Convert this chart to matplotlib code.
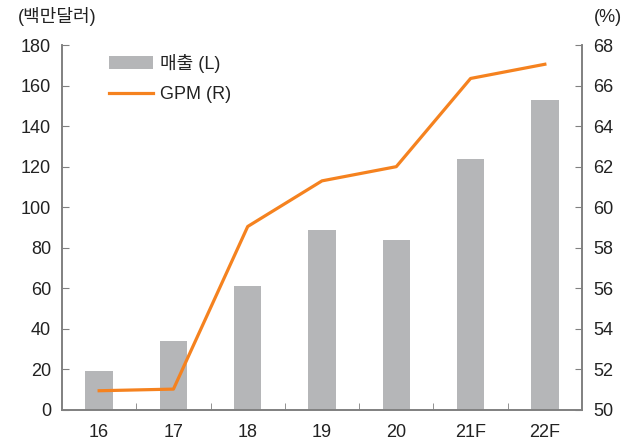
import matplotlib
matplotlib.use("Agg")
import matplotlib.pyplot as plt
from matplotlib.lines import Line2D
from matplotlib.patches import Patch

plt.rcParams['font.family'] = ['Liberation Sans', 'Noto Sans CJK KR', 'DejaVu Sans']

categories = ['16', '17', '18', '19', '20', '21F', '22F']
sales = [19, 34, 61, 89, 84, 124, 153]
gpm = [50.95, 51.03, 59.05, 61.3, 62.0, 66.35, 67.05]

bar_color = '#b5b6b8'
line_color = '#f5821f'
spine_color = '#808080'
text_color = '#222222'

fig = plt.figure(figsize=(6.37, 4.46), dpi=100)
ax = fig.add_axes([62/637, 1-410/446, 520/637, 365/446])
ax2 = ax.twinx()

x = range(len(categories))
ax.bar(x, sales, width=0.37, color=bar_color, zorder=2)
ax2.plot(x, gpm, color=line_color, linewidth=2.3, zorder=3)

ax.set_xlim(-0.5, len(categories) - 0.5)
ax.set_ylim(0, 180)
ax.set_yticks(range(0, 181, 20))
ax2.set_ylim(50, 68)
ax2.set_yticks(range(50, 69, 2))

ax.set_xticks(list(x))
ax.set_xticklabels(categories)
ax.set_xticks([i + 0.5 for i in range(len(categories) - 1)], minor=True)
ax.tick_params(axis='x', which='major', length=0, pad=10, labelsize=13, colors=text_color)
ax.tick_params(axis='x', which='minor', direction='in', length=5, color=spine_color)
ax.tick_params(axis='y', direction='in', length=5, color=spine_color, labelsize=13,
               labelcolor=text_color, pad=8)
ax2.tick_params(axis='y', direction='in', length=5, color=spine_color, labelsize=13,
                labelcolor=text_color, pad=8)

for a in (ax, ax2):
    a.spines['top'].set_visible(False)
    for s in ('left', 'right', 'bottom'):
        a.spines[s].set_color(spine_color)
        a.spines[s].set_linewidth(1.2)
ax2.set_zorder(ax.get_zorder() + 1)
ax2.patch.set_visible(False)

fig.text(18/637, 1-17/446, '(백만달러)', fontsize=13, color=text_color, va='center', ha='left')
fig.text(622/637, 1-17/446, '(%)', fontsize=13, color=text_color, va='center', ha='right')

handles = [Patch(facecolor=bar_color, edgecolor='none'),
           Line2D([0], [0], color=line_color, linewidth=2.3)]
ax.legend(handles, ['매출 (L)', 'GPM (R)'], loc='upper left', bbox_to_anchor=(0.06, 1.02),
          frameon=False, fontsize=13, handlelength=2.4, handleheight=0.7,
          labelspacing=0.75, handletextpad=0.4, labelcolor=text_color)

fig.savefig('out.png', dpi=100)
